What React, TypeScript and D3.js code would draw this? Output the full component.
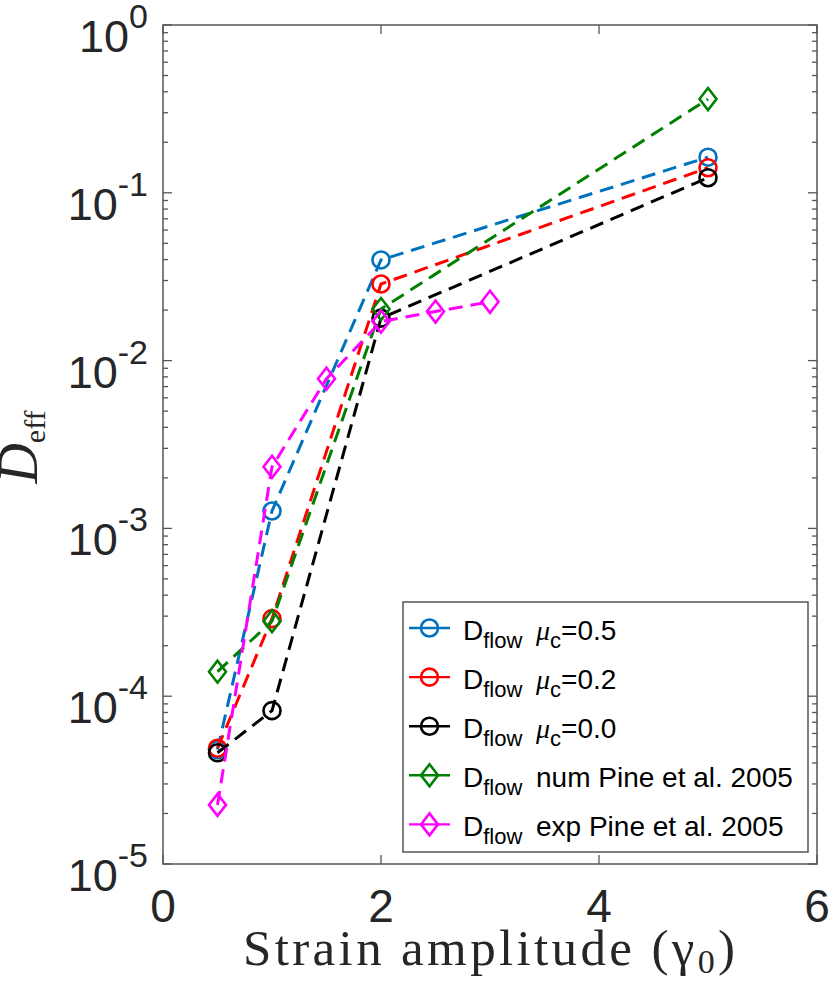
import React from "react";
import * as d3 from "d3";

const W = 830;
const H = 994;
const plot = { left: 163, right: 817, top: 25, bottom: 864 };

// strain amplitudes
const strainSim = [0.5, 1, 2, 5];
const strainExp = [0.5, 1, 1.5, 2, 2.5, 3];

// effective diffusivity values
const dMu05 = [4.8e-5, 1.27e-3, 0.0398, 0.163];
const dMu02 = [4.9e-5, 2.9e-4, 0.0286, 0.141];
const dMu00 = [4.6e-5, 8.2e-5, 0.0179, 0.123];
const pineNum = [1.4e-4, 2.8e-4, 0.0203, 0.362];
const pineExp = [2.25e-5, 2.33e-3, 7.8e-3, 0.0171, 0.0196, 0.0224];

const xTicks = [0, 2, 4, 6];
const yExps = [-5, -4, -3, -2, -1, 0];

type Series = {
  label: string;
  mu?: string;
  xs: number[];
  ys: number[];
  color: string;
  marker: "circle" | "diamond";
};

const series: Series[] = [
  { label: "", mu: "0.5", xs: strainSim, ys: dMu05, color: "#0072BD", marker: "circle" },
  { label: "", mu: "0.2", xs: strainSim, ys: dMu02, color: "#FF0000", marker: "circle" },
  { label: "", mu: "0.0", xs: strainSim, ys: dMu00, color: "#000000", marker: "circle" },
  { label: "num Pine et al. 2005", xs: strainSim, ys: pineNum, color: "#008000", marker: "diamond" },
  { label: "exp Pine et al. 2005", xs: strainExp, ys: pineExp, color: "#FF00FF", marker: "diamond" },
];

const sans = "'Liberation Sans', Arial, Helvetica, sans-serif";
const serif = "'Liberation Serif', 'Times New Roman', serif";
const axisColor = "#555555";
const textColor = "#262626";

const diamond = "M0,-11L8.5,0L0,11L-8.5,0Z";

function Marker({ kind, x, y, color }: { kind: string; x: number; y: number; color: string }) {
  if (kind === "circle") {
    return <circle cx={x} cy={y} r={8.5} fill="none" stroke={color} strokeWidth={2.6} />;
  }
  return <path d={diamond} transform={`translate(${x},${y})`} fill="none" stroke={color} strokeWidth={2.6} />;
}

export default function App() {
  const x = d3.scaleLinear().domain([0, 6]).range([plot.left, plot.right]);
  const y = d3.scaleLog().domain([1e-5, 1]).range([plot.bottom, plot.top]);

  const line = d3
    .line<[number, number]>()
    .x((d) => x(d[0]))
    .y((d) => y(d[1]));

  const minor: number[] = [];
  for (let e = -5; e < 0; e++) {
    for (let m = 2; m <= 9; m++) minor.push(m * Math.pow(10, e));
  }

  const leg = { x: 403, y: 602, w: 405, h: 250, row0: 628, step: 49.1 };

  return (
    <svg width={W} height={H} style={{ position: "absolute", left: 0, top: 0, background: "#fff" }}>
      <rect x={0} y={0} width={W} height={H} fill="#fff" />

      {/* ticks */}
      <g stroke={axisColor} strokeWidth={1.3}>
        {yExps.map((e) => {
          const yy = y(Math.pow(10, e));
          return (
            <g key={"ym" + e}>
              <line x1={plot.left} x2={plot.left + 9} y1={yy} y2={yy} />
              <line x1={plot.right} x2={plot.right - 9} y1={yy} y2={yy} />
            </g>
          );
        })}
        {minor.map((v, i) => {
          const yy = y(v);
          return (
            <g key={"yn" + i}>
              <line x1={plot.left} x2={plot.left + 5} y1={yy} y2={yy} />
              <line x1={plot.right} x2={plot.right - 5} y1={yy} y2={yy} />
            </g>
          );
        })}
        {xTicks.map((t) => (
          <g key={"xt" + t}>
            <line x1={x(t)} x2={x(t)} y1={plot.bottom} y2={plot.bottom - 9} />
            <line x1={x(t)} x2={x(t)} y1={plot.top} y2={plot.top + 9} />
          </g>
        ))}
      </g>

      {/* data */}
      {series.map((s, i) => {
        const pts = s.xs.map((v, j) => [v, s.ys[j]] as [number, number]);
        return (
          <g key={"s" + i}>
            <path d={line(pts) || ""} fill="none" stroke={s.color} strokeWidth={3} strokeDasharray="14,8" />
            {pts.map((p, j) => (
              <Marker key={j} kind={s.marker} x={x(p[0])} y={y(p[1])} color={s.color} />
            ))}
          </g>
        );
      })}

      {/* axes box */}
      <rect
        x={plot.left}
        y={plot.top}
        width={plot.right - plot.left}
        height={plot.bottom - plot.top}
        fill="none"
        stroke={axisColor}
        strokeWidth={1.5}
      />

      {/* y tick labels */}
      {yExps.map((e) => (
        <text
          key={"yl" + e}
          x={148}
          y={y(Math.pow(10, e)) + 27}
          textAnchor="end"
          fontFamily={sans}
          fontSize={45}
          fill={textColor}
        >
          10
          <tspan dy={-24} fontSize={34}>
            {String(e)}
          </tspan>
        </text>
      ))}

      {/* x tick labels */}
      {xTicks.map((t) => (
        <text key={"xl" + t} x={x(t)} y={922} textAnchor="middle" fontFamily={sans} fontSize={46} fill={textColor}>
          {t}
        </text>
      ))}

      {/* x axis label */}
      <text x={489} y={965} textAnchor="middle" fontFamily={serif} fontSize={51} fill={textColor} textLength={492} lengthAdjust="spacing">
        Strain amplitude (γ
        <tspan dy={8} fontSize={34}>
          0
        </tspan>
        <tspan dy={-8}>)</tspan>
      </text>

      {/* y axis label */}
      <text transform="translate(37,447) rotate(-90)" textAnchor="middle" fontFamily={serif} fill={textColor}>
        <tspan fontSize={56} fontStyle="italic">
          D
        </tspan>
        <tspan fontSize={30} dy={8}>
          eff
        </tspan>
      </text>

      {/* legend */}
      <rect x={leg.x} y={leg.y} width={leg.w} height={leg.h} fill="#fff" stroke={axisColor} strokeWidth={1.5} />
      {series.map((s, i) => {
        const cy = leg.row0 + i * leg.step;
        return (
          <g key={"lg" + i}>
            <line x1={409} x2={450} y1={cy} y2={cy} stroke={s.color} strokeWidth={2.4} />
            <Marker kind={s.marker} x={429.5} y={cy} color={s.color} />
            <text x={463} y={cy + 12} fontFamily={sans} fontSize={28} fill="#000">
              D
              <tspan dy={8} fontSize={22}>
                flow
              </tspan>
            </text>
            {s.mu ? (
              <text x={536} y={cy + 12} fontFamily={sans} fontSize={28} fill="#000">
                <tspan fontFamily={serif} fontStyle="italic">
                  μ
                </tspan>
                <tspan dy={8} fontSize={22}>
                  c
                </tspan>
                <tspan dy={-8}>={s.mu}</tspan>
              </text>
            ) : (
              <text x={536} y={cy + 12} fontFamily={sans} fontSize={28} fill="#000">
                {s.label}
              </text>
            )}
          </g>
        );
      })}
    </svg>
  );
}
